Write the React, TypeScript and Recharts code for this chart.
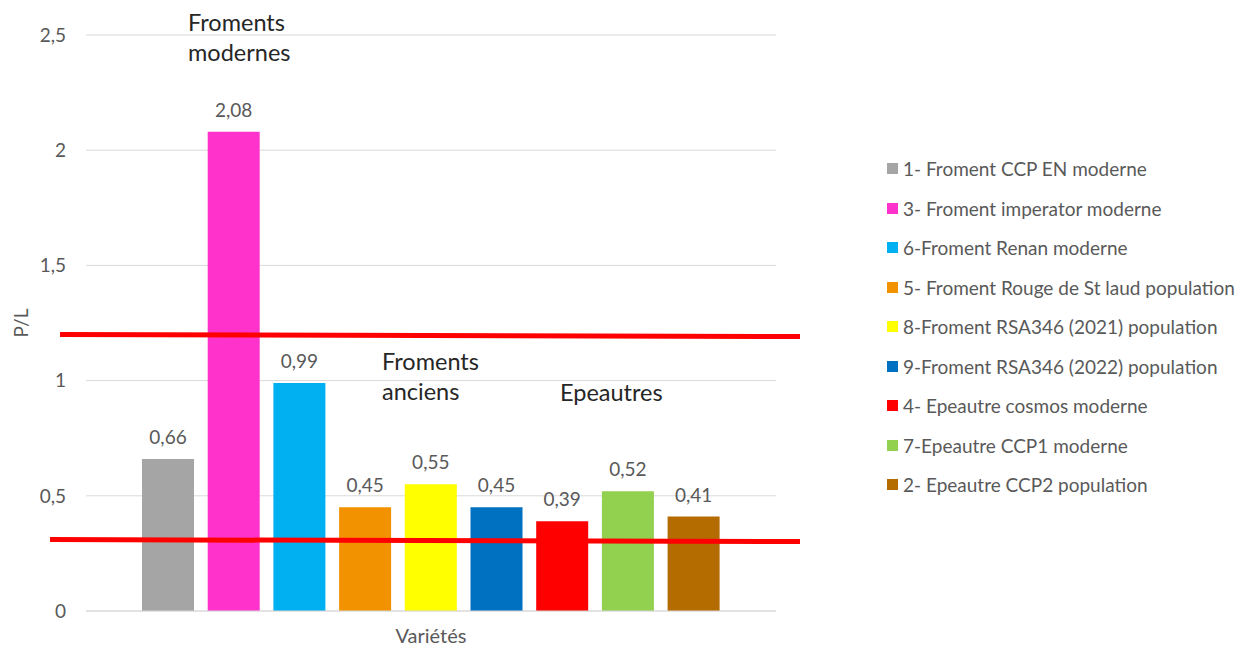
import { Bar, BarChart, CartesianGrid, LabelList, Legend, ReferenceLine, XAxis, YAxis } from "recharts";

const category = ["Variétés"];
const seriesNames = [
  "1- Froment CCP EN moderne",
  "3- Froment imperator moderne",
  "6-Froment Renan moderne",
  "5- Froment Rouge de St laud population",
  "8-Froment RSA346 (2021) population",
  "9-Froment RSA346 (2022) population",
  "4- Epeautre cosmos moderne",
  "7-Epeautre CCP1 moderne",
  "2- Epeautre CCP2 population",
];
const seriesValues = [0.66, 2.08, 0.99, 0.45, 0.55, 0.45, 0.39, 0.52, 0.41];
const seriesColors = ["#A5A5A5", "#FF33CC", "#00B0F0", "#F39200", "#FFFF00", "#0070C0", "#FF0000", "#92D050", "#B46B00"];
const yTicks = [0, 0.5, 1, 1.5, 2, 2.5];
const limits = [1.2, 0.31];

const data = category.map((cat) => {
  const row: Record<string, string | number> = { cat };
  seriesValues.forEach((v, i) => (row[`s${i}`] = v));
  return row;
});

const W = 1257;
const H = 648;
const LEGEND_W = 481;
const PLOT_RIGHT = W - LEGEND_W;

const FONT = "Lato, 'Noto Sans', sans-serif";
const GREY = "#595959";
const fmt = (v: number | string) => String(v).replace(".", ",");

function LegendList() {
  return (
    <div style={{ paddingLeft: 111, fontFamily: FONT, fontSize: 19, color: GREY }}>
      {seriesNames.map((n, i) => (
        <div key={n} style={{ height: 39.5, display: "flex", alignItems: "center", whiteSpace: "nowrap" }}>
          <span style={{ width: 11, height: 11, background: seriesColors[i], marginRight: 5, display: "inline-block" }} />
          {n}
        </div>
      ))}
    </div>
  );
}

const note: React.CSSProperties = {
  position: "absolute",
  fontFamily: FONT,
  fontSize: 23.5,
  lineHeight: "30px",
  color: "#262626",
  whiteSpace: "nowrap",
};

export default function App() {
  return (
    <div style={{ position: "absolute", left: 0, top: 0, width: W, height: H, background: "#fff" }}>
      <BarChart
        width={W}
        height={H}
        data={data}
        margin={{ top: 35, right: 0, bottom: 0, left: 0 }}
        barCategoryGap={56}
        barGap={13.7}
        style={{ fontFamily: FONT }}
      >
        <CartesianGrid stroke="#D9D9D9" vertical={false} />
        <XAxis
          dataKey="cat"
          tick={false}
          tickLine={false}
          axisLine={{ stroke: "#D9D9D9" }}
          height={37}
          label={{ value: "Variétés", position: "insideBottom", offset: 5, fill: GREY, fontSize: 20 }}
        />
        <YAxis
          domain={[0, 2.5]}
          ticks={yTicks}
          width={86}
          tickFormatter={fmt}
          tick={{ fill: GREY, fontSize: 19 }}
          tickSize={0}
          tickMargin={20}
          axisLine={false}
          tickLine={false}
          label={{
            content: ({ viewBox }: any) => (
              <text
                x={viewBox.x + 20}
                y={viewBox.y + viewBox.height / 2}
                transform={`rotate(-90, ${viewBox.x + 20}, ${viewBox.y + viewBox.height / 2})`}
                textAnchor="middle"
                dominantBaseline="central"
                fill={GREY}
                fontSize={19}
              >
                P/L
              </text>
            ),
          }}
        />
        <Legend
          layout="vertical"
          align="right"
          verticalAlign="top"
          wrapperStyle={{ top: 149, width: LEGEND_W }}
          content={() => <LegendList />}
        />
        {seriesNames.map((n, i) => (
          <Bar key={n} dataKey={`s${i}`} name={n} fill={seriesColors[i]} isAnimationActive={false}>
            <LabelList dataKey={`s${i}`} position="top" offset={15} formatter={fmt} fill={GREY} fontSize={19} />
          </Bar>
        ))}
        {limits.map((y, i) => (
          <ReferenceLine
            key={y}
            y={y}
            shape={(p: any) => (
              <line
                x1={p.x1 - (i === 0 ? 26 : 36)}
                y1={p.y1}
                x2={PLOT_RIGHT + 24}
                y2={p.y2 + 2}
                stroke="#FF0000"
                strokeWidth={5}
              />
            )}
          />
        ))}
      </BarChart>
      <div style={{ ...note, left: 188, top: 7 }}>
        Froments
        <br />
        modernes
      </div>
      <div style={{ ...note, left: 382, top: 346 }}>
        Froments
        <br />
        anciens
      </div>
      <div style={{ ...note, left: 560, top: 377 }}>Epeautres</div>
    </div>
  );
}
